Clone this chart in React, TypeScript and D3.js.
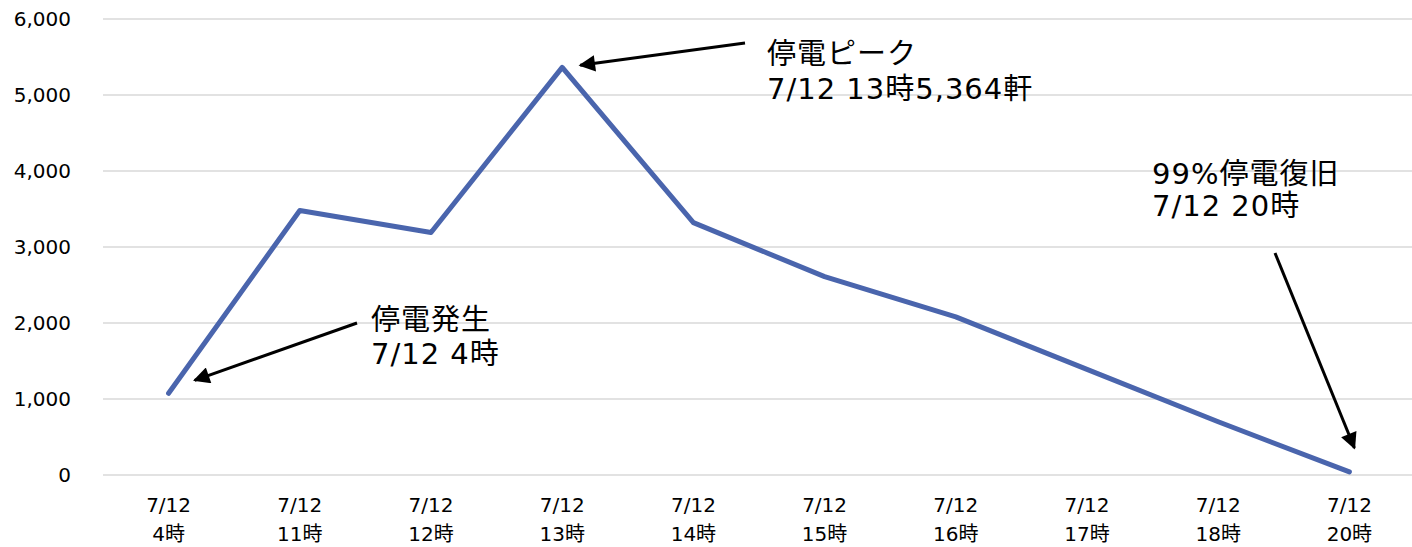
import React from "react";
import * as d3 from "d3";

const categories = ["4時", "11時", "12時", "13時", "14時", "15時", "16時", "17時", "18時", "20時"];
const dateLabel = "7/12";
const outages = [1075, 3480, 3190, 5364, 3320, 2610, 2080, 1390, 700, 40];
const yTicks = [0, 1000, 2000, 3000, 4000, 5000, 6000];

const annotations = [
  { idx: 0, lines: ["停電発生", "7/12 4時"], dx: 26, dy: -13, tail: [357, 323], text: [371, 330], gap: 34 },
  { idx: 3, lines: ["停電ピーク", "7/12 13時5,364軒"], dx: 18, dy: -2, tail: [745, 43], text: [767, 64], gap: 35 },
  { idx: 9, lines: ["99%停電復旧", "7/12 20時"], dx: 5, dy: -24, tail: [1275, 253], text: [1152, 184], gap: 32 },
];

const W = 1412, H = 547;
const font = "'DejaVu Sans', 'Noto Sans CJK JP', sans-serif";

export default function App() {
  const x = d3.scaleBand<string>().domain(categories).range([103, 1415]);
  const y = d3.scaleLinear().domain([0, 6000]).range([475, 19]);
  const cx = (c: string) => (x(c) as number) + x.bandwidth() / 2;
  const line = d3.line<number>().x((_, i) => cx(categories[i])).y((d) => y(d));
  const fmt = d3.format(",");

  return (
    <svg width={W} height={H} style={{ position: "absolute", left: 0, top: 0, background: "#fff" }} fontFamily={font}>
      <defs>
        <marker id="ah" viewBox="0 0 10 10" refX="9" refY="5" markerWidth="6" markerHeight="5.5" orient="auto" markerUnits="strokeWidth">
          <path d="M0,0 L10,5 L0,10 z" fill="#000" />
        </marker>
      </defs>
      {yTicks.map((t) => (
        <g key={t}>
          <line x1={103} x2={1412} y1={y(t)} y2={y(t)} stroke="#d9d9d9" strokeWidth={1.5} />
          <text x={71} y={y(t)} dy="0.36em" textAnchor="end" fontSize={20} fill="#000">{fmt(t)}</text>
        </g>
      ))}
      {categories.map((c) => (
        <g key={c}>
          <text x={cx(c)} y={512} textAnchor="middle" fontSize={20} fill="#000">{dateLabel}</text>
          <text x={cx(c)} y={541} textAnchor="middle" fontSize={20} fill="#000">{c}</text>
        </g>
      ))}
      <path d={line(outages) as string} fill="none" stroke="#4a65ad" strokeWidth={5} strokeLinejoin="round" strokeLinecap="round" />
      {annotations.map((a, i) => {
        const hx = cx(categories[a.idx]) + a.dx;
        const hy = y(outages[a.idx]) + a.dy;
        return (
          <g key={i}>
            <line x1={a.tail[0]} y1={a.tail[1]} x2={hx} y2={hy} stroke="#000" strokeWidth={3} markerEnd="url(#ah)" />
            {a.lines.map((l, j) => (
              <text key={j} x={a.text[0]} y={a.text[1] + j * a.gap} fontSize={29} letterSpacing={1} fill="#000">{l}</text>
            ))}
          </g>
        );
      })}
    </svg>
  );
}
